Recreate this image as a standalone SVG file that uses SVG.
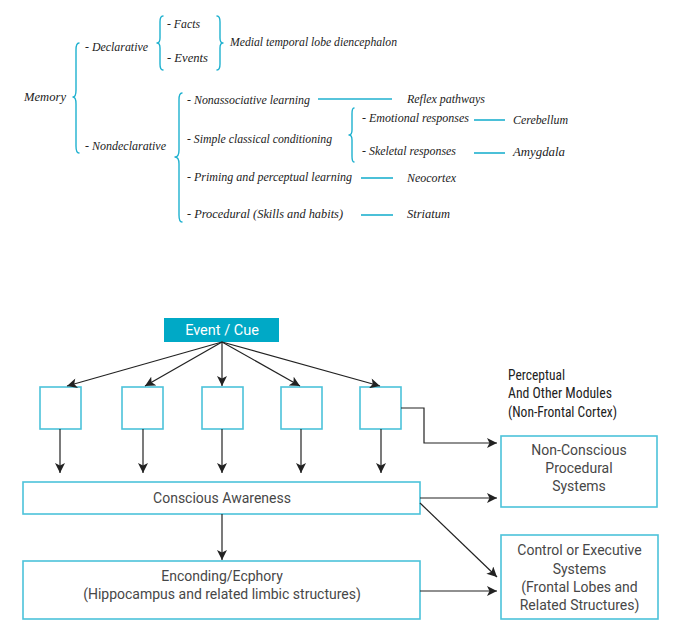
<svg xmlns="http://www.w3.org/2000/svg" width="678" height="637" viewBox="0 0 678 637">
<defs>
<style>
.t{font-family:"Liberation Serif","Times New Roman",serif;font-style:italic;font-size:13.5px;fill:#222}
.br{fill:none;stroke:#1fb1cf;stroke-width:1.4;stroke-linecap:round;stroke-linejoin:round}
.cl{stroke:#1fb1cf;stroke-width:1.6}
.box{fill:#fff;stroke:#4cc2da;stroke-width:1.6}
.bt{font-family:Roboto,"Open Sans","Liberation Sans",sans-serif;font-size:14px;fill:#474747;text-anchor:middle}
.pt{font-family:"Liberation Sans Narrow","Roboto Condensed","Liberation Sans",sans-serif;font-size:14px;fill:#222}
.ar{fill:none;stroke:#222;stroke-width:1.2;marker-end:url(#ah)}
</style>
<marker id="ah" viewBox="0 0 10 10" refX="10" refY="5" markerWidth="11" markerHeight="10" markerUnits="userSpaceOnUse" orient="auto">
<path d="M0,0 L10,5 L0,10 L2.5,5 z" fill="#222"/>
</marker>
</defs>

<g id="taxonomy">
<g id="memory"><text class="t" x="24" y="101" textLength="42" lengthAdjust="spacingAndGlyphs">Memory</text>
<path class="br" d="M79,43 Q76,43 76,50 L76,90 Q76,97 73,97 Q76,97 76,104 L76,146 Q76,153 79,153"/></g>
<g id="declarative"><text class="t" x="85" y="51" textLength="63" lengthAdjust="spacingAndGlyphs">- Declarative</text>
<path class="br" d="M163,16 Q160,16 160,22 L160,38 Q160,43 157,43 Q160,43 160,48 L160,64 Q160,70 163,70"/></g>
<g id="facts"><text class="t" x="167" y="28" textLength="33" lengthAdjust="spacingAndGlyphs">- Facts</text></g>
<g id="events"><text class="t" x="167" y="62" textLength="41" lengthAdjust="spacingAndGlyphs">- Events</text>
<path class="br" d="M217,16 Q220,16 220,22 L220,38 Q220,43 223,43 Q220,43 220,48 L220,64 Q220,70 217,70"/></g>
<g id="medial"><text class="t" x="230" y="46" textLength="167" lengthAdjust="spacingAndGlyphs">Medial temporal lobe diencephalon</text></g>
<g id="nondeclarative"><text class="t" x="85" y="150" textLength="81" lengthAdjust="spacingAndGlyphs">- Nondeclarative</text>
<path class="br" d="M182,93 Q179,93 179,100 L179,150 Q179,157 175,157 Q179,157 179,164 L179,215 Q179,222 182,222"/></g>
<g id="nonassoc"><text class="t" x="187" y="104" textLength="123" lengthAdjust="spacingAndGlyphs">- Nonassociative learning</text></g>
<g id="reflex"><text class="t" x="407" y="103" textLength="78" lengthAdjust="spacingAndGlyphs">Reflex pathways</text></g>
<g id="simple"><text class="t" x="187" y="143" textLength="145" lengthAdjust="spacingAndGlyphs">- Simple classical conditioning</text>
<path class="br" d="M354,108 Q352,108 352,114 L352,130 Q352,135 349,135 Q352,135 352,140 L352,156 Q352,162 354,162"/></g>
<g id="emotional"><text class="t" x="362" y="122" textLength="107" lengthAdjust="spacingAndGlyphs">- Emotional responses</text></g>
<g id="cerebellum"><text class="t" x="513" y="124" textLength="55" lengthAdjust="spacingAndGlyphs">Cerebellum</text></g>
<g id="skeletal"><text class="t" x="362" y="155" textLength="94" lengthAdjust="spacingAndGlyphs">- Skeletal responses</text></g>
<g id="amygdala"><text class="t" x="513" y="156" textLength="52" lengthAdjust="spacingAndGlyphs">Amygdala</text></g>
<g id="priming"><text class="t" x="187" y="181" textLength="165" lengthAdjust="spacingAndGlyphs">- Priming and perceptual learning</text></g>
<g id="neocortex"><text class="t" x="407" y="182" textLength="49" lengthAdjust="spacingAndGlyphs">Neocortex</text></g>
<g id="procedural"><text class="t" x="187" y="218" textLength="156" lengthAdjust="spacingAndGlyphs">- Procedural (Skills and habits)</text></g>
<g id="striatum"><text class="t" x="407" y="218" textLength="43" lengthAdjust="spacingAndGlyphs">Striatum</text></g>
<g id="taxonomy-lines">
<line class="cl" x1="318" y1="99" x2="392" y2="99"/>
<line class="cl" x1="474" y1="120" x2="505" y2="120"/>
<line class="cl" x1="474" y1="153" x2="505" y2="153"/>
<line class="cl" x1="361" y1="178" x2="393" y2="178"/>
<line class="cl" x1="361" y1="215" x2="393" y2="215"/>
</g>
</g>

<g id="event-cue"><rect x="164" y="318" width="115" height="24" fill="#00a9c6"/>
<text x="222" y="335" font-family="Roboto,'Open Sans','Liberation Sans',sans-serif" font-size="14.5" fill="#fff" text-anchor="middle">Event / Cue</text></g>

<g id="module1"><rect class="box" x="40" y="387" width="41" height="42"/></g>
<g id="module2"><rect class="box" x="122" y="387" width="41" height="42"/></g>
<g id="module3"><rect class="box" x="202" y="387" width="41" height="42"/></g>
<g id="module4"><rect class="box" x="281" y="387" width="41" height="42"/></g>
<g id="module5"><rect class="box" x="360" y="387" width="41" height="42"/></g>

<g id="modules-label">
<text class="pt" x="508" y="380" textLength="57" lengthAdjust="spacingAndGlyphs">Perceptual</text>
<text class="pt" x="508" y="398" textLength="104" lengthAdjust="spacingAndGlyphs">And Other Modules</text>
<text class="pt" x="508" y="417" textLength="109" lengthAdjust="spacingAndGlyphs">(Non-Frontal Cortex)</text>
</g>

<g id="conscious"><rect class="box" x="23" y="482" width="397" height="32"/>
<text class="bt" x="222" y="503">Conscious Awareness</text></g>

<g id="encoding"><rect class="box" x="23" y="561" width="397" height="58"/>
<text class="bt" x="222" y="581">Enconding/Ecphory</text>
<text class="bt" x="222" y="599">(Hippocampus and related limbic structures)</text></g>

<g id="nonconscious"><rect class="box" x="501" y="436" width="156" height="71"/>
<text class="bt" x="579" y="455">Non-Conscious</text>
<text class="bt" x="579" y="473">Procedural</text>
<text class="bt" x="579" y="491">Systems</text></g>

<g id="control"><rect class="box" x="501" y="535" width="157" height="84"/>
<text class="bt" x="579.5" y="555">Control or Executive</text>
<text class="bt" x="579.5" y="574">Systems</text>
<text class="bt" x="579.5" y="592">(Frontal Lobes and</text>
<text class="bt" x="579.5" y="610">Related Structures)</text></g>

<g id="connectors">
<line class="ar" x1="222" y1="342" x2="67" y2="386"/>
<line class="ar" x1="222" y1="342" x2="145" y2="386"/>
<line class="ar" x1="222" y1="342" x2="222" y2="386"/>
<line class="ar" x1="222" y1="342" x2="300" y2="386"/>
<line class="ar" x1="222" y1="342" x2="380" y2="386"/>
<line class="ar" x1="60" y1="429" x2="60" y2="473"/>
<line class="ar" x1="143" y1="429" x2="143" y2="473"/>
<line class="ar" x1="222" y1="429" x2="222" y2="473"/>
<line class="ar" x1="301" y1="429" x2="301" y2="473"/>
<line class="ar" x1="381" y1="429" x2="381" y2="473"/>
<polyline class="ar" points="401,408 424,408 424,443 497,443"/>
<line class="ar" x1="420" y1="498" x2="497" y2="498"/>
<line class="ar" x1="420" y1="503" x2="497" y2="577"/>
<line class="ar" x1="222" y1="514" x2="222" y2="560"/>
<line class="ar" x1="420" y1="591" x2="497" y2="591"/>
</g>
</svg>
